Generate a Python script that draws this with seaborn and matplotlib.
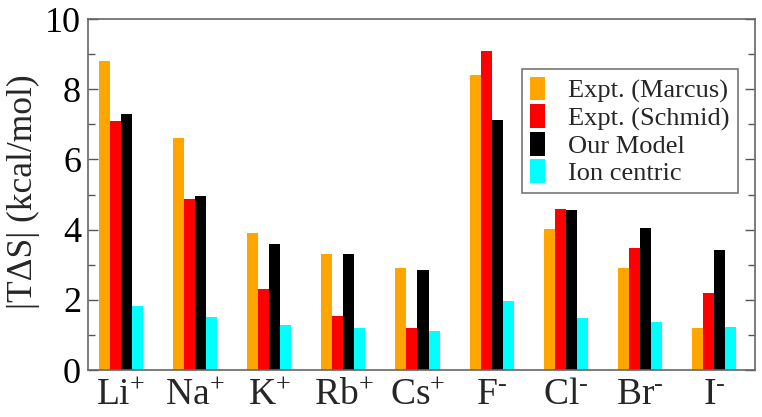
import numpy as np
import pandas as pd
import seaborn as sns
import matplotlib.pyplot as plt
from matplotlib.ticker import MultipleLocator

ions = ["Li$^{+}$", "Na$^{+}$", "K$^{+}$", "Rb$^{+}$", "Cs$^{+}$",
        r"F$^{\text{-}}$", r"Cl$^{\text{-}}$", r"Br$^{\text{-}}$", r"I$^{\text{-}}$"]
series = ["Expt. (Marcus)", "Expt. (Schmid)", "Our Model", "Ion centric"]
marcus = [8.8, 6.62, 3.9, 3.3, 2.9, 8.41, 4.01, 2.9, 1.2]
schmid = [7.1, 4.87, 2.3, 1.54, 1.19, 9.08, 4.6, 3.48, 2.19]
model = [7.28, 4.96, 3.59, 3.3, 2.85, 7.11, 4.55, 4.05, 3.41]
ion_centric = [1.83, 1.51, 1.27, 1.2, 1.11, 1.97, 1.48, 1.37, 1.22]
colors = ["#ffa500", "#ff0000", "#000000", "#00ffff"]

df = pd.DataFrame({
    "ion": ions * 4,
    "series": np.repeat(series, len(ions)),
    "value": marcus + schmid + model + ion_centric,
})

sns.set_style("white")
plt.rcParams["font.family"] = ["Liberation Serif", "DejaVu Serif"]
plt.rcParams["mathtext.fontset"] = "custom"
plt.rcParams["mathtext.rm"] = "Liberation Serif"
plt.rcParams["mathtext.it"] = "Liberation Serif:italic"
plt.rcParams["mathtext.default"] = "rm"

fig = plt.figure(figsize=(7.62, 4.17), dpi=100)
ax = fig.add_axes([0.1155, 0.1127, 0.8753, 0.8417])

sns.barplot(data=df, x="ion", y="value", hue="series", palette=colors,
            width=0.594, gap=0, linewidth=0, saturation=1, ax=ax,
            errorbar=None)

ax.set_xlim(-0.445, 8.553)
ax.set_ylim(0, 10)
ax.yaxis.set_major_locator(MultipleLocator(2))
ax.yaxis.set_minor_locator(MultipleLocator(1))
ax.tick_params(axis="y", which="both", direction="in", left=True, right=True,
               labelsize=26, colors="#555555", labelcolor="black", pad=5)
ax.tick_params(axis="y", which="major", length=7, width=1)
ax.tick_params(axis="y", which="minor", length=5, width=1)
ax.tick_params(axis="x", bottom=False, labelsize=27, pad=2)
for sp in ax.spines.values():
    sp.set_color("#666666")
    sp.set_linewidth(1.2)

ax.set_xlabel("")
ax.set_ylabel("|T\u0394S| (kcal/mol)", fontsize=25.5)
ax.yaxis.set_label_coords(-0.072, 0.507)

leg = ax.legend(loc="upper left", bbox_to_anchor=(0.651, 0.858), fontsize=19,
                frameon=True, fancybox=False, edgecolor="#555555",
                handlelength=0.55, handleheight=1.0, handletextpad=0.9,
                labelspacing=0.05, borderpad=0.3, borderaxespad=0)
leg.get_frame().set_linewidth(1.2)

fig.savefig("out.png", dpi=100)
